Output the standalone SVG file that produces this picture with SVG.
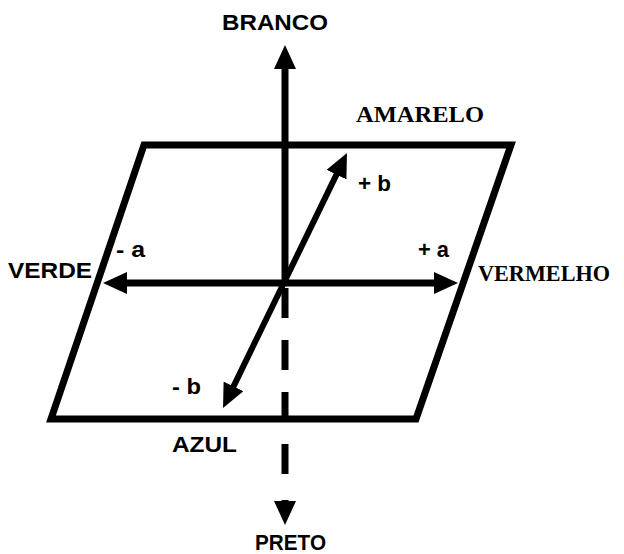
<svg xmlns="http://www.w3.org/2000/svg" width="624" height="554" viewBox="0 0 624 554">
  <style>
    .sans { font-family: "Liberation Sans", Arial, sans-serif; font-weight: bold; font-size: 22px; fill: #000; }
    .serif { font-family: "Liberation Serif", "Times New Roman", serif; font-weight: bold; font-size: 24px; fill: #000; }
    .axis { stroke: #000; stroke-width: 7; fill: none; }
    .diag { stroke: #000; stroke-width: 6; fill: none; }
    .plane { stroke: #000; stroke-width: 7; fill: none; stroke-linejoin: miter; }
  </style>
  <defs>
    <marker id="head" viewBox="0 -11 24 22" markerWidth="24" markerHeight="22" refX="3" refY="0" markerUnits="userSpaceOnUse" orient="auto-start-reverse">
      <path d="M0,-11 L24,0 L0,11 z" fill="#000"/>
    </marker>
  </defs>
  <rect width="624" height="554" fill="#fff"/>

  <g id="plane">
    <polygon class="plane" points="144,145 511,145 416,419 51,419"/>
  </g>

  <g id="connectors">
    <line id="axis-branco" class="axis" x1="285" y1="283" x2="285" y2="66" marker-end="url(#head)"/>
    <line id="axis-preto" class="axis" x1="285" y1="288" x2="285" y2="474" stroke-dasharray="30 22"/>
    <line id="axis-preto-head" class="axis" x1="285" y1="500" x2="285" y2="504" marker-end="url(#head)"/>
    <line id="axis-a" class="axis" x1="124" y1="283" x2="437" y2="283" marker-start="url(#head)" marker-end="url(#head)"/>
    <line id="axis-b" class="diag" x1="232.2" y1="389.1" x2="337.8" y2="171.9" marker-start="url(#head)" marker-end="url(#head)"/>
  </g>

  <g id="branco"><text class="sans" x="222" y="30" textLength="106" lengthAdjust="spacingAndGlyphs">BRANCO</text></g>
  <g id="amarelo"><text class="serif" x="356" y="122" textLength="128" lengthAdjust="spacingAndGlyphs">AMARELO</text></g>
  <g id="plus-b"><text class="sans" x="358" y="191" textLength="33" lengthAdjust="spacingAndGlyphs">+ b</text></g>
  <g id="verde"><text class="sans" x="8" y="278" textLength="84" lengthAdjust="spacingAndGlyphs">VERDE</text></g>
  <g id="minus-a"><text class="sans" x="116" y="257" textLength="29" lengthAdjust="spacingAndGlyphs">- a</text></g>
  <g id="plus-a"><text class="sans" x="418" y="257" textLength="31" lengthAdjust="spacingAndGlyphs">+ a</text></g>
  <g id="vermelho"><text class="serif" x="478" y="281" textLength="132" lengthAdjust="spacingAndGlyphs">VERMELHO</text></g>
  <g id="minus-b"><text class="sans" x="172" y="394" textLength="29" lengthAdjust="spacingAndGlyphs">- b</text></g>
  <g id="azul"><text class="sans" x="172" y="452" textLength="65" lengthAdjust="spacingAndGlyphs">AZUL</text></g>
  <g id="preto"><text class="sans" x="255" y="550" textLength="71" lengthAdjust="spacingAndGlyphs">PRETO</text></g>
</svg>
